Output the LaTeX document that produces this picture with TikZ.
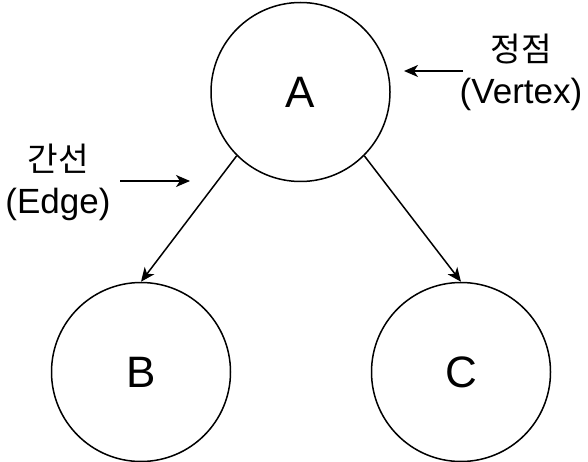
\documentclass[tikz,border=0pt]{standalone}
\usepackage{fontspec}
\setmainfont{Liberation Sans}
\newfontfamily\kr{Noto Sans CJK KR}[Scale=0.95]
\usetikzlibrary{arrows.meta}
\begin{document}
\begin{tikzpicture}[x=1pt, y=-1pt, line width=1.5pt,
    vert/.style={draw, circle, minimum size=179pt, inner sep=0pt,
      font=\fontsize{44}{52}\selectfont},
    note/.style={align=center, inner sep=0pt, font=\fontsize{35}{42}\selectfont},
    >={Stealth[length=14pt, width=12pt, inset=4pt]}]
  \useasboundingbox (0,0) rectangle (588,462);
  % vertices
  \node[vert] (A) at (300.5,92) {A};
  \node[vert] (B) at (141,372) {B};
  \node[vert] (C) at (461,372) {C};
  % edges
  \draw[->] (A.225) -- (B.north);
  \draw[->] (A.-45) -- (C.north);
  % labels
  \node[note] (vlabel) at (521,72) {{\kr 정점}\\(Vertex)};
  \node[note] (elabel) at (58,182) {{\kr 간선}\\(Edge)};
  \coordinate (vfrom) at (463,71);
  \coordinate (vto) at (404,71);
  \coordinate (efrom) at (120,181);
  \coordinate (eto) at (190,181);
  \draw[->] (vfrom) -- (vto);
  \draw[->] (efrom) -- (eto);
\end{tikzpicture}
\end{document}
